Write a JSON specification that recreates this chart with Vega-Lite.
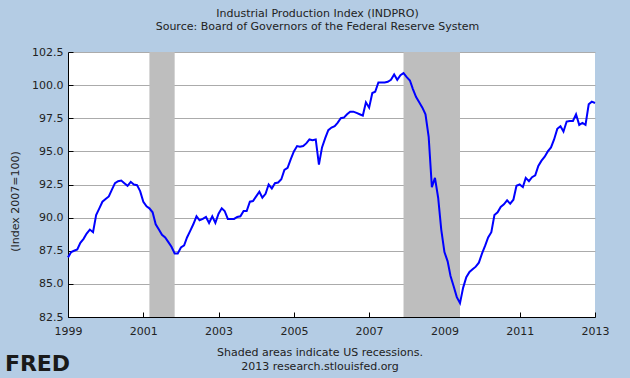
{
  "$schema": "https://vega.github.io/schema/vega-lite/v6.json",
  "width": 527,
  "height": 265,
  "autosize": {"type": "none"},
  "padding": {"left": 68, "top": 52, "right": 35, "bottom": 61},
  "background": "#B4CCE4",
  "title": {
    "text": "Industrial Production Index (INDPRO)",
    "subtitle": "Source: Board of Governors of the Federal Reserve System",
    "anchor": "middle",
    "frame": "group",
    "dx": -14,
    "offset": 14,
    "font": "DejaVu Sans",
    "fontSize": 11,
    "fontWeight": "normal",
    "color": "#222222",
    "subtitleFont": "DejaVu Sans",
    "subtitleFontSize": 11,
    "subtitleColor": "#222222",
    "subtitlePadding": 2
  },
  "config": {
    "view": {"fill": "white", "stroke": null},
    "font": "DejaVu Sans"
  },
  "resolve": {"axis": {"x": "independent"}},
  "datasets": {
    "recessions": [
      {"date": "2001-03-01", "end": "2001-11-01"},
      {"date": "2007-12-01", "end": "2009-06-01"}
    ],
    "indpro": [
      {"date": "1999-01-01", "value": 87.0}, {"date": "1999-02-01", "value": 87.4}, {"date": "1999-03-01", "value": 87.5}, {"date": "1999-04-01", "value": 87.6},
      {"date": "1999-05-01", "value": 88.1}, {"date": "1999-06-01", "value": 88.4}, {"date": "1999-07-01", "value": 88.8}, {"date": "1999-08-01", "value": 89.1},
      {"date": "1999-09-01", "value": 88.9}, {"date": "1999-10-01", "value": 90.2}, {"date": "1999-11-01", "value": 90.7}, {"date": "1999-12-01", "value": 91.2},
      {"date": "2000-01-01", "value": 91.4}, {"date": "2000-02-01", "value": 91.6}, {"date": "2000-03-01", "value": 92.1}, {"date": "2000-04-01", "value": 92.6},
      {"date": "2000-05-01", "value": 92.75}, {"date": "2000-06-01", "value": 92.8}, {"date": "2000-07-01", "value": 92.6}, {"date": "2000-08-01", "value": 92.4},
      {"date": "2000-09-01", "value": 92.7}, {"date": "2000-10-01", "value": 92.5}, {"date": "2000-11-01", "value": 92.45}, {"date": "2000-12-01", "value": 92.0},
      {"date": "2001-01-01", "value": 91.2}, {"date": "2001-02-01", "value": 90.85}, {"date": "2001-03-01", "value": 90.7}, {"date": "2001-04-01", "value": 90.4},
      {"date": "2001-05-01", "value": 89.5}, {"date": "2001-06-01", "value": 89.1}, {"date": "2001-07-01", "value": 88.7}, {"date": "2001-08-01", "value": 88.5},
      {"date": "2001-09-01", "value": 88.15}, {"date": "2001-10-01", "value": 87.8}, {"date": "2001-11-01", "value": 87.3}, {"date": "2001-12-01", "value": 87.3},
      {"date": "2002-01-01", "value": 87.75}, {"date": "2002-02-01", "value": 87.9}, {"date": "2002-03-01", "value": 88.5}, {"date": "2002-04-01", "value": 89.0},
      {"date": "2002-05-01", "value": 89.5}, {"date": "2002-06-01", "value": 90.1}, {"date": "2002-07-01", "value": 89.8}, {"date": "2002-08-01", "value": 89.9},
      {"date": "2002-09-01", "value": 90.05}, {"date": "2002-10-01", "value": 89.6}, {"date": "2002-11-01", "value": 90.1}, {"date": "2002-12-01", "value": 89.6},
      {"date": "2003-01-01", "value": 90.3}, {"date": "2003-02-01", "value": 90.7}, {"date": "2003-03-01", "value": 90.5}, {"date": "2003-04-01", "value": 89.9},
      {"date": "2003-05-01", "value": 89.9}, {"date": "2003-06-01", "value": 89.9}, {"date": "2003-07-01", "value": 90.05}, {"date": "2003-08-01", "value": 90.1},
      {"date": "2003-09-01", "value": 90.5}, {"date": "2003-10-01", "value": 90.5}, {"date": "2003-11-01", "value": 91.2}, {"date": "2003-12-01", "value": 91.25},
      {"date": "2004-01-01", "value": 91.6}, {"date": "2004-02-01", "value": 91.95}, {"date": "2004-03-01", "value": 91.5}, {"date": "2004-04-01", "value": 91.8},
      {"date": "2004-05-01", "value": 92.5}, {"date": "2004-06-01", "value": 92.2}, {"date": "2004-07-01", "value": 92.6}, {"date": "2004-08-01", "value": 92.65},
      {"date": "2004-09-01", "value": 92.9}, {"date": "2004-10-01", "value": 93.6}, {"date": "2004-11-01", "value": 93.75}, {"date": "2004-12-01", "value": 94.4},
      {"date": "2005-01-01", "value": 95.0}, {"date": "2005-02-01", "value": 95.4}, {"date": "2005-03-01", "value": 95.35}, {"date": "2005-04-01", "value": 95.4},
      {"date": "2005-05-01", "value": 95.6}, {"date": "2005-06-01", "value": 95.9}, {"date": "2005-07-01", "value": 95.85}, {"date": "2005-08-01", "value": 95.9},
      {"date": "2005-09-01", "value": 94.0}, {"date": "2005-10-01", "value": 95.3}, {"date": "2005-11-01", "value": 96.0}, {"date": "2005-12-01", "value": 96.6},
      {"date": "2006-01-01", "value": 96.8}, {"date": "2006-02-01", "value": 96.9}, {"date": "2006-03-01", "value": 97.15}, {"date": "2006-04-01", "value": 97.5},
      {"date": "2006-05-01", "value": 97.55}, {"date": "2006-06-01", "value": 97.8}, {"date": "2006-07-01", "value": 98.0}, {"date": "2006-08-01", "value": 98.0},
      {"date": "2006-09-01", "value": 97.9}, {"date": "2006-10-01", "value": 97.8}, {"date": "2006-11-01", "value": 97.7}, {"date": "2006-12-01", "value": 98.7},
      {"date": "2007-01-01", "value": 98.3}, {"date": "2007-02-01", "value": 99.4}, {"date": "2007-03-01", "value": 99.5}, {"date": "2007-04-01", "value": 100.2},
      {"date": "2007-05-01", "value": 100.2}, {"date": "2007-06-01", "value": 100.2}, {"date": "2007-07-01", "value": 100.25}, {"date": "2007-08-01", "value": 100.4},
      {"date": "2007-09-01", "value": 100.8}, {"date": "2007-10-01", "value": 100.4}, {"date": "2007-11-01", "value": 100.75}, {"date": "2007-12-01", "value": 100.9},
      {"date": "2008-01-01", "value": 100.6}, {"date": "2008-02-01", "value": 100.35}, {"date": "2008-03-01", "value": 99.7}, {"date": "2008-04-01", "value": 99.1},
      {"date": "2008-05-01", "value": 98.7}, {"date": "2008-06-01", "value": 98.3}, {"date": "2008-07-01", "value": 97.8}, {"date": "2008-08-01", "value": 96.1},
      {"date": "2008-09-01", "value": 92.3}, {"date": "2008-10-01", "value": 93.0}, {"date": "2008-11-01", "value": 91.5}, {"date": "2008-12-01", "value": 89.1},
      {"date": "2009-01-01", "value": 87.4}, {"date": "2009-02-01", "value": 86.7}, {"date": "2009-03-01", "value": 85.6}, {"date": "2009-04-01", "value": 84.8},
      {"date": "2009-05-01", "value": 84.0}, {"date": "2009-06-01", "value": 83.55}, {"date": "2009-07-01", "value": 84.7}, {"date": "2009-08-01", "value": 85.5},
      {"date": "2009-09-01", "value": 85.9}, {"date": "2009-10-01", "value": 86.1}, {"date": "2009-11-01", "value": 86.3}, {"date": "2009-12-01", "value": 86.6},
      {"date": "2010-01-01", "value": 87.3}, {"date": "2010-02-01", "value": 87.9}, {"date": "2010-03-01", "value": 88.5}, {"date": "2010-04-01", "value": 88.9},
      {"date": "2010-05-01", "value": 90.2}, {"date": "2010-06-01", "value": 90.4}, {"date": "2010-07-01", "value": 90.8}, {"date": "2010-08-01", "value": 91.0},
      {"date": "2010-09-01", "value": 91.3}, {"date": "2010-10-01", "value": 91.05}, {"date": "2010-11-01", "value": 91.35}, {"date": "2010-12-01", "value": 92.4},
      {"date": "2011-01-01", "value": 92.5}, {"date": "2011-02-01", "value": 92.3}, {"date": "2011-03-01", "value": 93.0}, {"date": "2011-04-01", "value": 92.75},
      {"date": "2011-05-01", "value": 93.05}, {"date": "2011-06-01", "value": 93.2}, {"date": "2011-07-01", "value": 93.9}, {"date": "2011-08-01", "value": 94.3},
      {"date": "2011-09-01", "value": 94.6}, {"date": "2011-10-01", "value": 95.0}, {"date": "2011-11-01", "value": 95.3}, {"date": "2011-12-01", "value": 95.9},
      {"date": "2012-01-01", "value": 96.7}, {"date": "2012-02-01", "value": 96.9}, {"date": "2012-03-01", "value": 96.5}, {"date": "2012-04-01", "value": 97.25},
      {"date": "2012-05-01", "value": 97.3}, {"date": "2012-06-01", "value": 97.3}, {"date": "2012-07-01", "value": 97.8}, {"date": "2012-08-01", "value": 97.0},
      {"date": "2012-09-01", "value": 97.15}, {"date": "2012-10-01", "value": 97.0}, {"date": "2012-11-01", "value": 98.55}, {"date": "2012-12-01", "value": 98.75},
      {"date": "2013-01-01", "value": 98.65}
    ]
  },
  "layer": [
    {
      "data": {"name": "recessions"},
      "mark": {"type": "rect", "color": "#BEBEBE"},
      "encoding": {
        "x": {
          "field": "date",
          "type": "temporal",
          "scale": {"domain": [{"year": 1999, "month": 1, "date": 1}, {"year": 2013, "month": 1, "date": 1}], "nice": false},
          "axis": {
            "orient": "top",
            "labels": false,
            "ticks": false,
            "domain": false,
            "grid": false,
            "title": "FRED",
            "titleFont": "DejaVu Sans",
            "titleFontSize": 22,
            "titleFontWeight": "bold",
            "titleColor": "#1A1A1A",
            "titleAngle": 0,
            "titleAlign": "center",
            "titleAnchor": "start",
            "titleBaseline": "middle",
            "titleX": -31,
            "titleY": 311.5
          }
        },
        "x2": {"field": "end"}
      }
    },
    {
      "data": {"name": "indpro"},
      "mark": {"type": "line", "color": "#0000FF", "strokeWidth": 2},
      "encoding": {
        "x": {
          "field": "date",
          "type": "temporal",
          "axis": {
            "values": [{"year": 1999}, {"year": 2001}, {"year": 2003}, {"year": 2005}, {"year": 2007}, {"year": 2009}, {"year": 2011}, {"year": 2013}],
            "tickCount": 20,
            "format": "%Y",
            "grid": false,
            "tickSize": -5,
            "tickColor": "#000000",
            "domainColor": "#000000",
            "labelPadding": 13,
            "labelFont": "DejaVu Sans",
            "labelFontSize": 11,
            "labelColor": "#222222",
            "labelFlush": false,
            "labelOverlap": false,
            "title": ["Shaded areas indicate US recessions.", "2013 research.stlouisfed.org"],
            "titleFont": "DejaVu Sans",
            "titleFontSize": 11,
            "titleFontWeight": "normal",
            "titleColor": "#222222",
            "titleAlign": "center",
            "titleAnchor": "start",
            "titleX": 251.5,
            "titleY": 29,
            "titleBaseline": "top",
            "titleLineHeight": 14
          }
        },
        "y": {
          "field": "value",
          "type": "quantitative",
          "scale": {"domain": [82.5, 102.5], "nice": false, "zero": false},
          "axis": {
            "values": [82.5, 85, 87.5, 90, 92.5, 95, 97.5, 100, 102.5],
            "tickCount": 20,
            "format": ".1f",
            "grid": true,
            "gridColor": "#ABABAB",
            "tickSize": -5,
            "tickColor": "#000000",
            "domainColor": "#000000",
            "labelPadding": 10,
            "labelFont": "DejaVu Sans",
            "labelFontSize": 11,
            "labelColor": "#222222",
            "labelOverlap": false,
            "labelFlush": false,
            "title": "(Index 2007=100)",
            "titleFont": "DejaVu Sans",
            "titleFontSize": 11,
            "titleFontWeight": "normal",
            "titleColor": "#222222",
            "titleAngle": 270,
            "titleAlign": "center",
            "titleBaseline": "middle",
            "titleX": -53,
            "titleY": 149
          }
        }
      }
    }
  ]
}
